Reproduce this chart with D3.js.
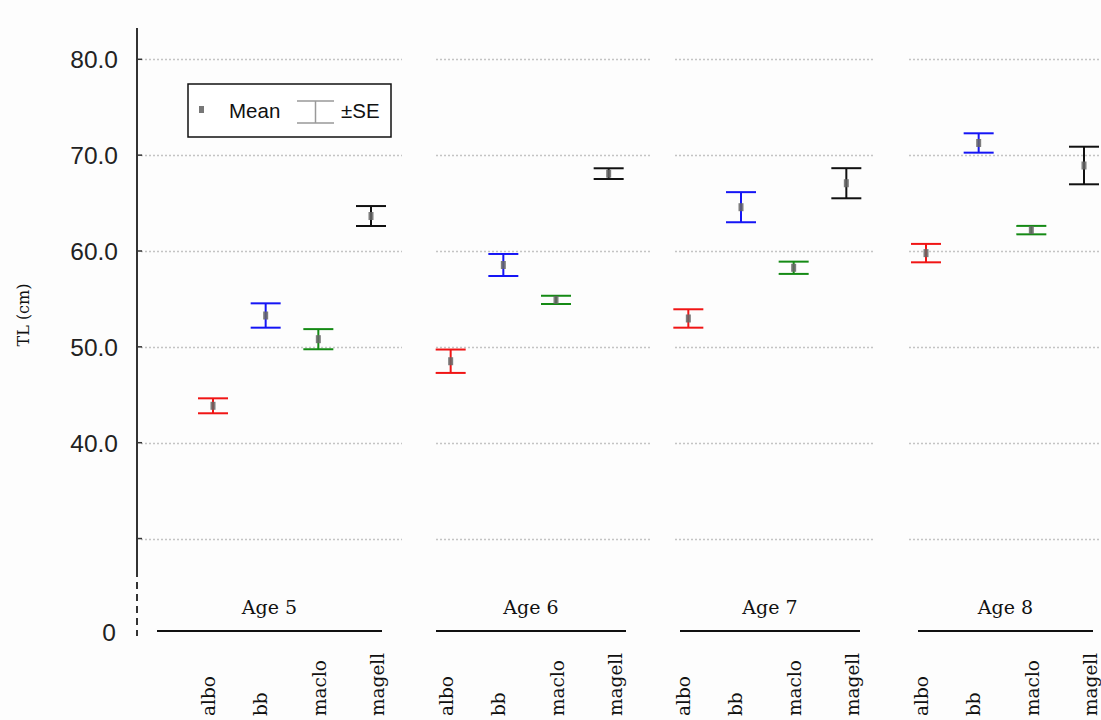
<!DOCTYPE html>
<html>
<head>
<meta charset="utf-8">
<script src="https://cdn.jsdelivr.net/npm/d3@7"></script>
<style>
  html, body { margin: 0; padding: 0; background: #fdfdfd; }
  svg { display: block; }
</style>
</head>
<body>
<svg id="chart" width="1101" height="720"></svg>
<script>
// ---- data ----
const groups = ["Age 5", "Age 6", "Age 7", "Age 8"];
const species = ["albo", "bb", "maclo", "magell"];
const speciesColors = ["#f01515", "#1515f5", "#148a14", "#111111"];
// mean TL (cm) per group, one array per species
const meanAlbo   = [43.85, 48.5, 52.96, 59.78];
const meanBb     = [53.27, 58.54, 64.57, 71.27];
const meanMaclo  = [50.8, 54.9, 58.25, 62.18];
const meanMagell = [63.65, 68.07, 67.07, 68.92];
// standard errors
const seAlbo   = [0.78, 1.22, 0.96, 0.96];
const seBb     = [1.27, 1.15, 1.57, 1.01];
const seMaclo  = [1.05, 0.43, 0.64, 0.44];
const seMagell = [1.04, 0.56, 1.57, 1.96];
const yTicks = [30, 40, 50, 60, 70, 80];
const yTickLabels = ["", "40.0", "50.0", "60.0", "70.0", "80.0"];
const yZeroLabel = "0";
const yTitle = "TL (cm)";

const means = [meanAlbo, meanBb, meanMaclo, meanMagell];
const ses = [seAlbo, seBb, seMaclo, seMagell];
const rows = [];
species.forEach((s, j) => groups.forEach((g, i) => {
  rows.push({ group: g, species: s, color: speciesColors[j], mean: means[j][i], se: ses[j][i] });
}));

// ---- layout ----
const svg = d3.select("#chart");
const axisX = 137;
const y = d3.scaleLinear().domain([40, 80]).range([442.7, 59.3]);
const xGroup = d3.scalePoint().domain(groups).range([292, 1005]);
const xInner = d3.scalePoint().domain(species).range([-79, 79]);
const labelInner = d3.scaleOrdinal().domain(species).range([-77, -25, 34, 92]);
// gridline segments and group underline segments (pixel layout)
const gridSegs = [[141, 402], [436, 650], [675, 873], [909, 1100]];
const groupLines = [[157, 382], [436, 626], [680, 860], [918, 1093]];

svg.append("rect").attr("width", 1101).attr("height", 720).attr("fill", "#fdfdfd");

// gridlines
const grid = svg.append("g");
yTicks.forEach(t => {
  gridSegs.forEach(s => {
    grid.append("line")
      .attr("x1", s[0]).attr("x2", s[1])
      .attr("y1", Math.round(y(t)) + 0.5).attr("y2", Math.round(y(t)) + 0.5)
      .attr("stroke", "#c4c4c4").attr("stroke-width", 1.3)
      .attr("stroke-dasharray", "2,2");
  });
});

// y axis
const ax = svg.append("g");
ax.append("line").attr("x1", axisX).attr("x2", axisX).attr("y1", 28).attr("y2", 577)
  .attr("stroke", "#333").attr("stroke-width", 2);
ax.append("line").attr("x1", axisX).attr("x2", axisX).attr("y1", 582).attr("y2", 636)
  .attr("stroke", "#333").attr("stroke-width", 2).attr("stroke-dasharray", "7,5");
yTicks.forEach((t, i) => {
  ax.append("line").attr("x1", axisX).attr("x2", axisX + 5)
    .attr("y1", y(t)).attr("y2", y(t)).attr("stroke", "#333").attr("stroke-width", 1.5);
  if (yTickLabels[i]) {
    ax.append("text").attr("x", 118).attr("y", y(t)).attr("dy", "0.36em")
      .attr("text-anchor", "end").attr("font-family", "Liberation Sans, Arial, sans-serif")
      .attr("font-size", 24.5).attr("fill", "#222").text(yTickLabels[i]);
  }
});
ax.append("text").attr("x", 116).attr("y", 632).attr("dy", "0.36em")
  .attr("text-anchor", "end").attr("font-family", "Liberation Sans, Arial, sans-serif")
  .attr("font-size", 24.5).attr("fill", "#222").text(yZeroLabel);
svg.append("text").attr("transform", "translate(29,315) rotate(-90)")
  .attr("text-anchor", "middle").attr("font-family", "DejaVu Serif, serif")
  .attr("font-size", 16).attr("fill", "#111").text(yTitle);

// error bars
const capW = 30;
const eb = svg.append("g").selectAll("g").data(rows).join("g")
  .attr("transform", d => `translate(${xGroup(d.group) + xInner(d.species)},0)`);
eb.append("line").attr("x1", 0).attr("x2", 0)
  .attr("y1", d => y(d.mean + d.se)).attr("y2", d => y(d.mean - d.se))
  .attr("stroke", d => d.color).attr("stroke-width", 2);
eb.append("line").attr("x1", -capW / 2).attr("x2", capW / 2)
  .attr("y1", d => y(d.mean + d.se)).attr("y2", d => y(d.mean + d.se))
  .attr("stroke", d => d.color).attr("stroke-width", 2);
eb.append("line").attr("x1", -capW / 2).attr("x2", capW / 2)
  .attr("y1", d => y(d.mean - d.se)).attr("y2", d => y(d.mean - d.se))
  .attr("stroke", d => d.color).attr("stroke-width", 2);
eb.append("rect").attr("x", -2.5).attr("y", d => y(d.mean) - 4)
  .attr("width", 5).attr("height", 8).attr("fill", "#666").attr("opacity", 0.85);

// group labels & underlines
groups.forEach((g, i) => {
  const s = groupLines[i];
  svg.append("line").attr("x1", s[0]).attr("x2", s[1]).attr("y1", 631).attr("y2", 631)
    .attr("stroke", "#111").attr("stroke-width", 2);
  svg.append("text").attr("x", (s[0] + s[1]) / 2).attr("y", 614)
    .attr("text-anchor", "middle").attr("font-family", "DejaVu Serif, serif")
    .attr("font-size", 19).attr("fill", "#111").text(g);
  species.forEach(sp => {
    const lx = xGroup(g) + labelInner(sp);
    svg.append("text").attr("transform", `translate(${lx},716) rotate(-90)`)
      .attr("text-anchor", "start").attr("font-family", "DejaVu Serif, serif")
      .attr("font-size", 18.5).attr("fill", "#111").text(sp);
  });
});

// legend
const lg = svg.append("g");
lg.append("rect").attr("x", 188).attr("y", 84).attr("width", 203).attr("height", 53)
  .attr("fill", "#fff").attr("stroke", "#111").attr("stroke-width", 1.5);
lg.append("rect").attr("x", 199).attr("y", 106).attr("width", 5).attr("height", 7).attr("fill", "#777");
lg.append("text").attr("x", 229).attr("y", 111).attr("dy", "0.36em")
  .attr("font-family", "Liberation Sans, Arial, sans-serif").attr("font-size", 20.5)
  .attr("fill", "#111").text("Mean");
lg.append("line").attr("x1", 297).attr("x2", 334).attr("y1", 101).attr("y2", 101).attr("stroke", "#999").attr("stroke-width", 1.5);
lg.append("line").attr("x1", 297).attr("x2", 334).attr("y1", 123).attr("y2", 123).attr("stroke", "#999").attr("stroke-width", 1.5);
lg.append("line").attr("x1", 315.5).attr("x2", 315.5).attr("y1", 101).attr("y2", 123).attr("stroke", "#999").attr("stroke-width", 1.5);
lg.append("text").attr("x", 341).attr("y", 111).attr("dy", "0.36em")
  .attr("font-family", "Liberation Sans, Arial, sans-serif").attr("font-size", 20.5)
  .attr("fill", "#111").text("±SE");
</script>
</body>
</html>
